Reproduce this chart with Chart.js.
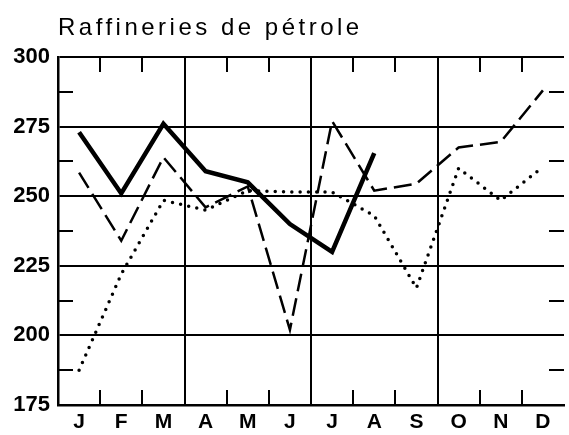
<!DOCTYPE html>
<html>
<head>
<meta charset="utf-8">
<script src="https://cdn.jsdelivr.net/npm/chart.js@4/dist/chart.umd.min.js"></script>
<style>
  html, body { margin: 0; padding: 0; background: #fff; }
  #wrap { width: 569px; height: 435px; }
</style>
</head>
<body>
<div id="wrap"><canvas id="c" width="569" height="435"></canvas></div>
<script>
const months = ['J','F','M','A','M','J','J','A','S','O','N','D'];
const seriesSolid  = [273, 251, 276, 259, 255, 240, 230, 265.5, null, null, null, null];
const seriesDashed = [258.5, 234, 264, 246, 253.5, 202, 277, 252, 254.5, 267.5, 269.5, 288];
const seriesDotted = [187.5, 222, 248.5, 245, 252, 251.5, 251.5, 243, 217, 260, 248.5, 260.5];
const titleText = 'Raffineries de pétrole';
const yMin = 175, yMax = 300, yStep = 25;

const minorTicks = {
  id: 'minorTicks',
  beforeDatasetsDraw(chart) {
    const { ctx, chartArea: a, scales: { x, y } } = chart;
    const L = 15;
    ctx.save();
    ctx.strokeStyle = '#000';
    ctx.lineWidth = 2;
    ctx.beginPath();
    for (let v = yMin + yStep / 2; v < yMax; v += yStep) {
      const py = Math.round(y.getPixelForValue(v));
      ctx.moveTo(a.left, py); ctx.lineTo(a.left + L, py);
      ctx.moveTo(a.right, py); ctx.lineTo(a.right - L, py);
    }
    for (let i = 1; i < months.length; i++) {
      if (i % 3 === 0) continue;
      const px = Math.round((x.getPixelForValue(i - 1) + x.getPixelForValue(i)) / 2);
      ctx.moveTo(px, a.top); ctx.lineTo(px, a.top + L);
      ctx.moveTo(px, a.bottom); ctx.lineTo(px, a.bottom - L);
    }
    ctx.stroke();
    ctx.restore();
  }
};

const titleSpacing = {
  id: 'titleSpacing',
  beforeDraw(chart) {
    const tb = chart.titleBlock;
    if (tb && !tb._wrapped) {
      const orig = tb.draw.bind(tb);
      tb.draw = function () {
        const ctx = chart.ctx;
        ctx.save();
        ctx.translate(45, 0);
        ctx.letterSpacing = '3.5px';
        orig();
        ctx.restore();
      };
      tb._wrapped = true;
    }
  }
};

new Chart(document.getElementById('c'), {
  type: 'line',
  data: {
    labels: months,
    datasets: [
      { data: seriesSolid, borderColor: '#000', borderWidth: 4.5, pointRadius: 0, tension: 0, fill: false, borderJoinStyle: 'miter', spanGaps: false },
      { data: seriesDashed, borderColor: '#000', borderWidth: 2.5, borderDash: [18, 7], pointRadius: 0, tension: 0, fill: false },
      { data: seriesDotted, borderColor: '#000', borderWidth: 3.5, borderDash: [0, 8.3], borderCapStyle: 'round', pointRadius: 0, tension: 0, fill: false }
    ]
  },
  options: {
    responsive: false,
    animation: false,
    devicePixelRatio: 1,
    layout: { padding: { left: 13, right: 5, top: 0, bottom: 0 } },
    plugins: {
      legend: { display: false },
      tooltip: { enabled: false },
      title: {
        display: true,
        text: titleText,
        align: 'start',
        color: '#000',
        font: { family: 'Liberation Sans', size: 24, weight: 'normal', lineHeight: 1.2 },
        padding: { top: 13.5, bottom: 14.7 }
      }
    },
    scales: {
      x: {
        offset: true,
        afterFit(s) { s.height = 30; },
        grid: {
          offset: true,
          drawTicks: false,
          lineWidth: 2,
          color: (c) => (c.index % 3 === 0 ? '#000' : 'rgba(0,0,0,0)')
        },
        border: { display: true, color: '#000', width: 2.5 },
        ticks: {
          color: '#000',
          padding: 5,
          maxRotation: 0,
          autoSkip: false,
          font: { family: 'Liberation Sans', size: 21, weight: 'bold', lineHeight: 1.2 }
        }
      },
      y: {
        min: yMin,
        max: yMax,
        afterFit(s) { s.width = 45; },
        grid: { drawTicks: false, lineWidth: 2, color: '#000' },
        border: { display: true, color: '#000', width: 2.5 },
        ticks: {
          stepSize: yStep,
          color: '#000',
          padding: 8,
          font: { family: 'Liberation Sans', size: 22, weight: 'bold' }
        }
      }
    }
  },
  plugins: [minorTicks, titleSpacing]
});
</script>
</body>
</html>
